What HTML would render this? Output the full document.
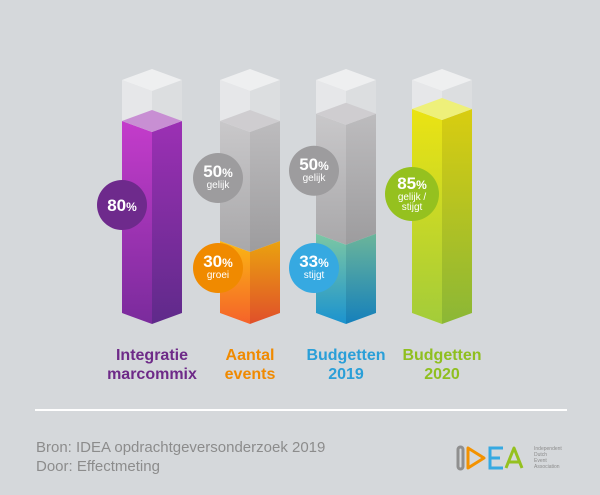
<!DOCTYPE html>
<html><head><meta charset="utf-8"><style>
body{margin:0;background:#d5d8db;}
svg{display:block;font-family:"Liberation Sans",sans-serif;}
</style></head><body>
<svg id="c" width="600" height="495" viewBox="0 0 600 495">
<defs>
<linearGradient id="pL" x1="0" y1="0" x2="0" y2="1"><stop offset="0" stop-color="#c43ccb"/><stop offset="1" stop-color="#7a2b9c"/></linearGradient>
<linearGradient id="pR" x1="0" y1="0" x2="0" y2="1"><stop offset="0" stop-color="#9c30b4"/><stop offset="1" stop-color="#5f2a8a"/></linearGradient>
<linearGradient id="oL" x1="0" y1="0" x2="0" y2="1"><stop offset="0" stop-color="#fbb713"/><stop offset="1" stop-color="#f5622a"/></linearGradient>
<linearGradient id="oR" x1="0" y1="0" x2="0" y2="1"><stop offset="0" stop-color="#eaa20f"/><stop offset="1" stop-color="#e0502a"/></linearGradient>
<linearGradient id="bL" x1="0" y1="0" x2="0" y2="1"><stop offset="0" stop-color="#7cc7a3"/><stop offset="1" stop-color="#1b93cf"/></linearGradient>
<linearGradient id="bR" x1="0" y1="0" x2="0" y2="1"><stop offset="0" stop-color="#6bb59a"/><stop offset="1" stop-color="#1580bb"/></linearGradient>
<linearGradient id="yL" x1="0" y1="0" x2="0" y2="1"><stop offset="0" stop-color="#ebe313"/><stop offset="1" stop-color="#a3cc3a"/></linearGradient>
<linearGradient id="yR" x1="0" y1="0" x2="0" y2="1"><stop offset="0" stop-color="#d9cd10"/><stop offset="1" stop-color="#8bb736"/></linearGradient>
<linearGradient id="gL" x1="0" y1="0" x2="0" y2="1"><stop offset="0" stop-color="#c9c8ca"/><stop offset="1" stop-color="#a9a8aa"/></linearGradient>
<linearGradient id="gR" x1="0" y1="0" x2="0" y2="1"><stop offset="0" stop-color="#bdbcbe"/><stop offset="1" stop-color="#9d9c9e"/></linearGradient>
</defs>
<g id="bars"></g>
<g id="bubbles"></g>
<g id="labels"></g>
<line x1="35" y1="410" x2="567" y2="410" stroke="#ffffff" stroke-width="2"/>
<text x="36" y="452" font-size="15" fill="#8c8c8c">Bron:  IDEA opdrachtgeversonderzoek 2019</text>
<text x="36" y="471" font-size="15" fill="#8c8c8c">Door: Effectmeting</text>
<g fill="none" stroke-width="3">
<rect x="458" y="447" width="5" height="22" rx="2.5" stroke="#8f8f8f"/>
<path d="M468 448 L468 468 L484 458 Z" stroke="#f39200" stroke-linejoin="round"/>
<path d="M503 448 H490 V468 H503 M490 458 H500" stroke="#36a9e1"/>
<path d="M506 468 L514 448 L522 468 M509 462 H519" stroke="#95c11f" stroke-linejoin="round"/>
</g>
<g font-size="5" fill="#8c8c8c">
<text x="534" y="450">Independent</text><text x="534" y="456">Dutch</text><text x="534" y="462">Event</text><text x="534" y="468">Association</text>
</g>
</svg>
<script>
const categories=["Integratie|marcommix","Aantal|events","Budgetten|2019","Budgetten|2020"];
const lowerValues=[80,30,33,85];
const upperValues=[0,50,50,0];
const lowerLabels=["","groei","stijgt","gelijk /|stijgt"];
const upperLabels=["","gelijk","gelijk",""];
const NS="http://www.w3.org/2000/svg";
const centers=[152,250,346,442];
const colors=[["url(#pL)","url(#pR)","#c88fd3","#6e2a8c","#6e2a88"],["url(#oL)","url(#oR)","#f7b43a","#f08a00","#f08a00"],["url(#bL)","url(#bR)","#8ccfb0","#36a9e1","#2a9fd8"],["url(#yL)","url(#yR)","#eef07a","#95c11f","#8fbf1f"]];
const Y0=313,HW=30,D=11;
function y(v){return Y0-2.4*v;}
function mk(tag,attrs,parent){const e=document.createElementNS(NS,tag);for(const k in attrs)e.setAttribute(k,attrs[k]);parent.appendChild(e);return e;}
function prism(g,cx,yt,yb,fl,fr,ft,name){
  const p=mk('polygon',{points:`${cx-HW},${yt} ${cx},${yt+D} ${cx},${yb+D} ${cx-HW},${yb}`,fill:fl},g);
  
  
  const q=mk('polygon',{points:`${cx+HW},${yt} ${cx},${yt+D} ${cx},${yb+D} ${cx+HW},${yb}`,fill:fr},g);
  
  
  if(ft){const t=mk('polygon',{points:`${cx-HW},${yt} ${cx},${yt-D} ${cx+HW},${yt} ${cx},${yt+D}`,fill:ft},g);
  
  }
}
const bars=document.getElementById('bars'),bub=document.getElementById('bubbles'),lab=document.getElementById('labels');
function bubble(cx,cy,r,fill,pct,sub,name){
  const g=mk('g',{},bub);
  
  
  mk('circle',{cx:cx,cy:cy,r:r,fill:fill},g);
  const lines=sub?sub.split('|'):[];
  const ty=cy+(lines.length?-1-(lines.length-1)*4:6);
  const t=mk('text',{x:cx,y:ty,'text-anchor':'middle',fill:'#fff','font-weight':'bold','font-size':17},g);
  t.textContent=pct;
  const ts=mk('tspan',{'font-size':12},t);ts.textContent='%';
  lines.forEach((l,i)=>{const s=mk('text',{x:cx,y:ty+11+i*10,'text-anchor':'middle',fill:'#fff','font-size':10},g);s.textContent=l;});
}
categories.forEach((c,i)=>{
  const cx=centers[i],col=colors[i];
  const g=mk('g',{},bars);
  
  
  prism(g,cx,80,Y0,'#e6e7e9','#dcdee0','#eeeff0','glass');
  const yl=y(lowerValues[i]);
  if(upperValues[i]>0){
    const yu=y(lowerValues[i]+upperValues[i]);
    prism(g,cx,yu,yl,'url(#gL)','url(#gR)','#cfcdd0','upper-segment');
  }
  prism(g,cx,yl,Y0,col[0],col[1],upperValues[i]>0?null:col[2],'lower-segment');
  if(upperValues[i]>0){
    bubble(cx-32,y(lowerValues[i]+upperValues[i])+57,25,'#9d9c9e',String(upperValues[i]),upperLabels[i],'bubble-upper-'+i);
    bubble(cx-32,Math.max(yl+27,268),25,col[3],String(lowerValues[i]),lowerLabels[i],'bubble-lower-'+i);
  } else {
    bubble(cx-30,yl+(i==0?84:85),i==0?25:27,col[3],String(lowerValues[i]),lowerLabels[i],'bubble-'+i);
  }
  const parts=c.split('|');
  parts.forEach((p,k)=>{
    const t=mk('text',{x:cx,y:360+k*19,'text-anchor':'middle',fill:col[4],'font-weight':'bold','font-size':16},lab);
    
    
    t.textContent=p;
  });
});
</script>
</body></html>
